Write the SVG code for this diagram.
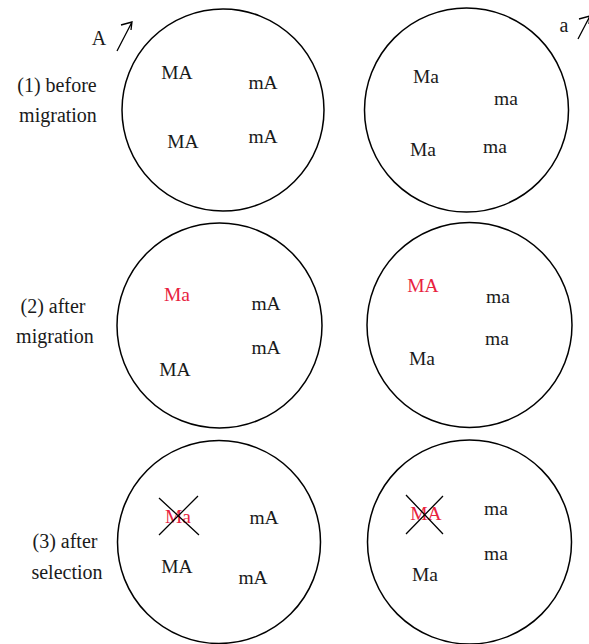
<svg xmlns="http://www.w3.org/2000/svg" width="589" height="644" viewBox="0 0 589 644">
<style>
.c{fill:none;stroke:#000;stroke-width:1.5}
.t{font-family:"Liberation Serif","Times New Roman",serif;font-size:19.5px;fill:#1a1a1a;text-anchor:middle}
.l{font-family:"Liberation Serif","Times New Roman",serif;font-size:20px;fill:#1a1a1a;text-anchor:middle}
.r{fill:#e8233f}
.x{stroke:#000;stroke-width:1.3;fill:none}
</style>
<rect width="589" height="644" fill="#fff"/>
<g id="labels">
<text class="l" x="57" y="92">(1) before</text>
<text class="l" x="58" y="122">migration</text>
<text class="l" x="53" y="313">(2) after</text>
<text class="l" x="55" y="343">migration</text>
<text class="l" x="65" y="548">(3) after</text>
<text class="l" x="67" y="579">selection</text>
<text class="l" x="99" y="45">A</text>
<text class="l" x="564" y="32">a</text>
</g>
<g id="connectors">
<path class="x" d="M117,51 L132,22 M121,25 L132,22 L131,30"/>
<path class="x" d="M578,39 L590,16 M579,19 L590,16 L589,24"/>
</g>
<g id="pop1-before">
<circle class="c" cx="223" cy="110" r="101"/>
<text class="t" x="177" y="79">MA</text>
<text class="t" x="263" y="89">mA</text>
<text class="t" x="183" y="148">MA</text>
<text class="t" x="263" y="143">mA</text>
</g>
<g id="pop2-before">
<circle class="c" cx="466.5" cy="110" r="102"/>
<text class="t" x="426" y="83">Ma</text>
<text class="t" x="506" y="105">ma</text>
<text class="t" x="423" y="156">Ma</text>
<text class="t" x="495" y="153">ma</text>
</g>
<g id="pop1-migration">
<circle class="c" cx="219.5" cy="325.5" r="102.5"/>
<text class="t r" x="177" y="301">Ma</text>
<text class="t" x="266" y="310">mA</text>
<text class="t" x="266" y="354">mA</text>
<text class="t" x="175" y="376">MA</text>
</g>
<g id="pop2-migration">
<circle class="c" cx="469.5" cy="325" r="102.5"/>
<text class="t r" x="423" y="292">MA</text>
<text class="t" x="498" y="303">ma</text>
<text class="t" x="497" y="345">ma</text>
<text class="t" x="422" y="365">Ma</text>
</g>
<g id="pop1-selection">
<circle class="c" cx="219" cy="542" r="101.5"/>
<text class="t r" x="178" y="523">Ma</text>
<path class="x" d="M159,498 L199,535 M198,496 L159,535"/>
<text class="t" x="264" y="524">mA</text>
<text class="t" x="177" y="573">MA</text>
<text class="t" x="253" y="584">mA</text>
</g>
<g id="pop2-selection">
<circle class="c" cx="469.5" cy="542" r="102"/>
<text class="t r" x="426" y="520">MA</text>
<path class="x" d="M406,495 L443,534 M443,496 L406,534"/>
<text class="t" x="496" y="515">ma</text>
<text class="t" x="496" y="560">ma</text>
<text class="t" x="425" y="581">Ma</text>
</g>
</svg>
